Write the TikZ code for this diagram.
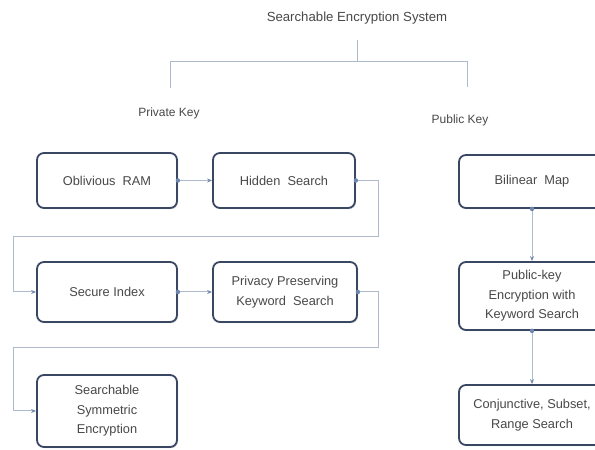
\documentclass[tikz,border=0pt]{standalone}
\usepackage{fontspec}
\setmainfont{Liberation Sans}
\usetikzlibrary{arrows.meta,shadows}
\definecolor{boxline}{HTML}{3A4763}
\definecolor{linkline}{HTML}{AEBACB}
\definecolor{linkhead}{HTML}{6F88B0}
\definecolor{txt}{HTML}{484848}
\tikzset{
  box/.style={draw=boxline, line width=1.8pt, rounded corners=7pt, fill=white,
    align=center, text=txt, inner sep=0pt,
    font=\fontsize{12.8}{19.5}\selectfont,
    drop shadow={shadow xshift=1pt, shadow yshift=-1.2pt, opacity=0.35, fill=gray}},
  link/.style={draw=linkline, line width=1pt,
    -{Stealth[length=5pt,width=4pt,color=linkhead]}},
  startdot/.style={circle, fill=linkhead, inner sep=0pt, minimum size=4.5pt},
  bracket/.style={draw=linkline, line width=1pt},
  heading/.style={text=txt, font=\fontsize{12}{14}\selectfont},
}
\begin{document}
\begin{tikzpicture}[x=1pt,y=1pt]
\useasboundingbox (0,0) rectangle (595,450);
\clip (0,0) rectangle (595,450);

% title and the two branches
\node[heading, font=\fontsize{13.2}{16}\selectfont] (title) at (357,432) {Searchable Encryption System};
\coordinate (bt) at (357,410);
\coordinate (bm) at (357,388);
\coordinate (bl) at (170,388);
\coordinate (bl2) at (170,362);
\coordinate (br) at (467,388);
\coordinate (br2) at (467,363);
\draw[bracket] (bt) -- (bm);
\draw[bracket] (bl2) -- (bl) -- (br) -- (br2);
\node[heading] (priv) at (169,337) {Private Key};
\node[heading] (pub) at (460,330) {Public Key};

% private key column
\node[box, minimum width=140pt, minimum height=55pt] (orm) at (107,269.5) {Oblivious\ \ RAM};
\node[box, minimum width=142pt, minimum height=55pt] (hid) at (284,269.5) {Hidden\ \ Search};
\node[box, minimum width=140pt, minimum height=60pt] (sec) at (107,158) {Secure Index};
\node[box, minimum width=144pt, minimum height=60pt] (ppk) at (285,158) {Privacy Preserving\\Keyword\ \ Search};
\node[box, minimum width=140pt, minimum height=72pt] (sse) at (107,39) {Searchable\\Symmetric\\Encryption};

% public key column
\node[box, minimum width=146pt, minimum height=53pt] (bil) at (532,268.5) {Bilinear\ \ Map};
\node[box, minimum width=146pt, minimum height=68pt] (pek) at (532,154) {Public-key\\Encryption with\\Keyword Search};
\node[box, minimum width=146pt, minimum height=60pt] (con) at (532,35) {Conjunctive, Subset,\\Range Search};

% routing points
\coordinate (r1) at (378,269.5);
\coordinate (r2) at (378,213);
\coordinate (r3) at (13,213);
\coordinate (r4) at (13,158);
\coordinate (s1) at (378,158);
\coordinate (s2) at (378,102);
\coordinate (s3) at (13,102);
\coordinate (s4) at (13,39);

% connectors
\draw[link] (orm.east) -- (hid.west);
\draw[link] (hid.east) -- (r1) -- (r2) -- (r3) -- (r4) -- (sec.west);
\draw[link] (sec.east) -- (ppk.west);
\draw[link] (ppk.east) -- (s1) -- (s2) -- (s3) -- (s4) -- (sse.west);
\draw[link] (bil.south) -- (pek.north);
\draw[link] (pek.south) -- (con.north);

% start markers
\node[startdot] at (orm.east) {};
\node[startdot] at (hid.east) {};
\node[startdot] at (sec.east) {};
\node[startdot] at (ppk.east) {};
\node[startdot] at (bil.south) {};
\node[startdot] at (pek.south) {};
\end{tikzpicture}
\end{document}
